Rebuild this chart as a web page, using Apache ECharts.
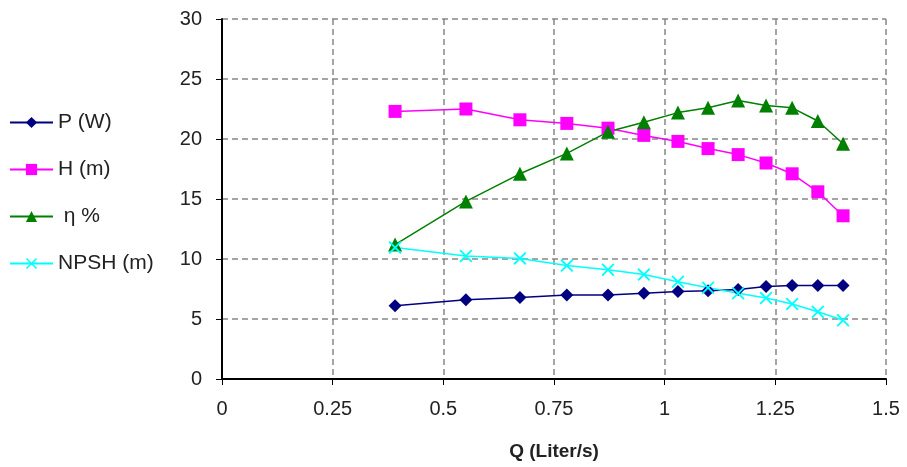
<!DOCTYPE html>
<html>
<head>
<meta charset="utf-8">
<script src="https://cdn.jsdelivr.net/npm/echarts@6/dist/echarts.min.js"></script>
<style>
  html, body { margin: 0; padding: 0; background: #fff; }
  #chart { width: 907px; height: 467px; }
</style>
</head>
<body>
<div id="chart"></div>
<script>
// flow rate Q (Liter/s)
const flow = [0.391, 0.551, 0.673, 0.779, 0.872, 0.953, 1.030, 1.098, 1.166, 1.229, 1.288, 1.346, 1.403]
const power = [6.1, 6.6, 6.8, 7.0, 7.0, 7.15, 7.3, 7.35, 7.45, 7.7, 7.8, 7.8, 7.8]
const head = [22.3, 22.5, 21.6, 21.3, 20.9, 20.3, 19.8, 19.2, 18.7, 18.0, 17.1, 15.6, 13.6]
const eff = [11.2, 14.8, 17.1, 18.8, 20.6, 21.4, 22.2, 22.6, 23.2, 22.8, 22.6, 21.5, 19.6]
const npsh = [10.95, 10.25, 10.05, 9.45, 9.1, 8.7, 8.1, 7.6, 7.15, 6.75, 6.25, 5.6, 4.9]
const seriesNames = ['P (W)', 'H (m)', ' η %', 'NPSH (m)']

const crossPath = 'path://M0,1 L1,0 L5,4 L9,0 L10,1 L6,5 L10,9 L9,10 L5,6 L1,10 L0,9 L4,5 Z'

function pairs(ys) {
  return flow.map((x, i) => [x, ys[i]])
}

const chart = echarts.init(document.getElementById('chart'))
const font = 'Liberation Sans, Arial, sans-serif'

const option = {
  animation: false,
  textStyle: { fontFamily: font },
  grid: { left: 222, right: 21, top: 19, bottom: 88 },
  legend: {
    orient: 'vertical',
    left: 4,
    top: 107,
    itemWidth: 43,
    itemHeight: 14,
    itemGap: 26,
    textStyle: { fontSize: 21, color: '#222', fontFamily: font, lineHeight: 21 },
    data: seriesNames
  },
  xAxis: {
    type: 'value',
    min: 0,
    max: 1.5,
    interval: 0.25,
    name: 'Q (Liter/s)',
    nameLocation: 'middle',
    nameGap: 63,
    nameTextStyle: { fontSize: 19, fontWeight: 'bold', color: '#222' },
    axisLine: { lineStyle: { color: '#000', width: 2 } },
    axisTick: { length: 6, lineStyle: { color: '#000' } },
    axisLabel: { fontSize: 20, color: '#222', margin: 20 },
    splitLine: { show: true, lineStyle: { color: '#888', width: 1.5, type: [6, 4] } }
  },
  yAxis: {
    type: 'value',
    min: 0,
    max: 30,
    interval: 5,
    axisLine: { show: true, lineStyle: { color: '#000', width: 2 } },
    axisTick: { show: true, length: 6, lineStyle: { color: '#000' } },
    axisLabel: { fontSize: 20, color: '#222', margin: 20 },
    splitLine: { show: true, lineStyle: { color: '#888', width: 1.5, type: [6, 4] } }
  },
  series: [
    {
      name: seriesNames[0],
      type: 'line',
      data: pairs(power),
      symbol: 'diamond',
      symbolSize: 13,
      itemStyle: { color: '#000080' },
      lineStyle: { color: '#000080', width: 1.5 }
    },
    {
      name: seriesNames[1],
      type: 'line',
      data: pairs(head),
      symbol: 'rect',
      symbolSize: 13,
      itemStyle: { color: '#ff00ff' },
      lineStyle: { color: '#ff00ff', width: 1.5 }
    },
    {
      name: seriesNames[2],
      type: 'line',
      data: pairs(eff),
      symbol: 'triangle',
      symbolSize: 14,
      itemStyle: { color: '#008000' },
      lineStyle: { color: '#008000', width: 1.5 }
    },
    {
      name: seriesNames[3],
      type: 'line',
      data: pairs(npsh),
      symbol: crossPath,
      symbolSize: 13,
      itemStyle: { color: '#00ffff' },
      lineStyle: { color: '#00ffff', width: 1.5 }
    }
  ]
}

chart.setOption(option)
window.addEventListener('resize', function () {
  chart.resize()
})
</script>
</body>
</html>
